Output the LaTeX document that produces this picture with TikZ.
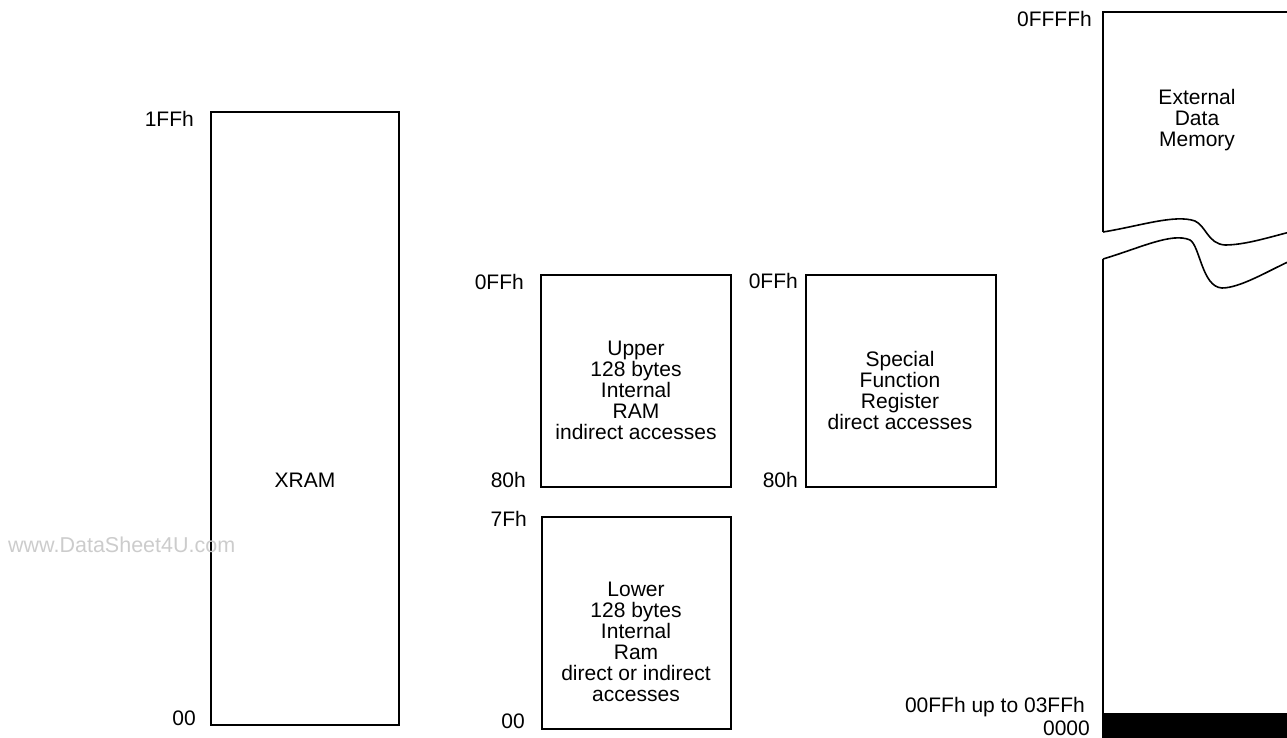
\documentclass[tikz,border=0pt]{standalone}
\usepackage{fontspec}
\setmainfont{Liberation Sans}
\begin{document}
\begin{tikzpicture}[x=1pt,y=-1pt,
  boxline/.style={draw=black,line width=1.6pt},
  lbl/.style={font=\fontsize{21}{21}\selectfont,inner sep=0pt},
  rlbl/.style={lbl,anchor=east},
  body/.style={lbl,align=center},
  wm/.style={font=\fontsize{21.5}{22}\selectfont,text=black!20,inner sep=0pt,anchor=west}]
\useasboundingbox (0,0) rectangle (1287,738);
% boxes
\draw[boxline] (211,112) rectangle (399,725);
\draw[boxline] (541,275) rectangle (731,487);
\draw[boxline] (542,517) rectangle (731,729);
\draw[boxline] (806,275) rectangle (996,487);
% external memory
\draw[boxline] (1103,232) -- (1103,12) -- (1290,12);
\draw[boxline] (1103,232) .. controls (1140,226) and (1175,214) .. (1195,221)
  .. controls (1206,226) and (1208,244) .. (1225,245)
  .. controls (1245,245) and (1270,237) .. (1290,232);
\draw[boxline] (1103,259) .. controls (1140,248) and (1172,232) .. (1190,240)
  .. controls (1200,246) and (1202,287) .. (1222,288)
  .. controls (1240,288) and (1268,271) .. (1290,261);
\draw[boxline] (1103,259) -- (1103,713);
\fill[black] (1102,713) rectangle (1287,738);
% labels
\node[rlbl] (l1ffh) at (194,119) {1FFh};
\node[rlbl] (l00a) at (196,718) {00};
\node[lbl] (xram) at (305,480) {XRAM};
\node[rlbl] (lffu) at (524,282) {0FFh};
\node[rlbl] (l80u) at (526,480) {80h};
\node[rlbl] (l7f) at (527,519) {7Fh};
\node[rlbl] (l00b) at (525,721) {00};
\node[rlbl] (lffs) at (798,281) {0FFh};
\node[rlbl] (l80s) at (798,480) {80h};
\node[rlbl] (lffff) at (1092,19) {0FFFFh};
\node[rlbl] (lupto) at (1085,707) {00FFh up to 03FFh};
\node[rlbl] (l0000) at (1090,728) {0000};
\node[body] (upper) at (636,390) {Upper\\128 bytes\\Internal\\RAM\\indirect accesses};
\node[body] (lower) at (636,642) {Lower\\128 bytes\\Internal\\Ram\\direct or indirect\\accesses};
\node[body] (sfr) at (900,390) {Special\\Function\\Register\\direct accesses};
\node[body] (ext) at (1197,120) {External\\Data\\Memory};
\node[wm] (wmark) at (8,545) {www.DataSheet4U.com};
\end{tikzpicture}
\end{document}
